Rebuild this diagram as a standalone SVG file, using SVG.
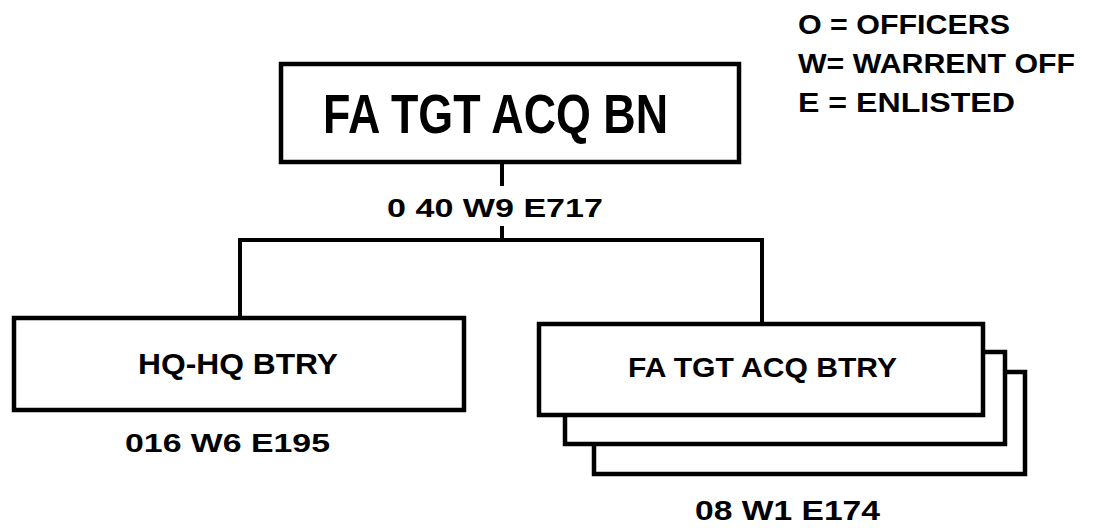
<svg xmlns="http://www.w3.org/2000/svg" width="1094" height="528" viewBox="0 0 1094 528">
<style>
.box{fill:#fff;stroke:#000;stroke-width:4.5}
.ln{fill:none;stroke:#000;stroke-width:4}
text{font-family:"Liberation Sans",Arial,sans-serif;font-weight:bold;fill:#000}
</style>
<rect width="1094" height="528" fill="#fff"/>
<g id="connectors">
<line class="ln" x1="502" y1="162" x2="502" y2="186"/>
<line class="ln" x1="502" y1="226" x2="502" y2="240"/>
<polyline class="ln" points="240,318 240,240 762,240 762,324"/>
</g>
<g id="bn">
<rect class="box" x="281" y="64" width="458" height="98"/>
<text x="323" y="133" font-size="56" textLength="345" lengthAdjust="spacingAndGlyphs">FA TGT ACQ BN</text>
<text x="387" y="217" font-size="26" textLength="216" lengthAdjust="spacingAndGlyphs">0 40 W9 E717</text>
</g>
<g id="hq">
<rect class="box" x="14" y="318" width="450" height="92"/>
<text x="138" y="374" font-size="30" textLength="200" lengthAdjust="spacingAndGlyphs">HQ-HQ BTRY</text>
<text x="125" y="452" font-size="26" textLength="205" lengthAdjust="spacingAndGlyphs">016 W6 E195</text>
</g>
<g id="btry">
<rect class="box" x="594" y="372" width="431" height="102"/>
<rect class="box" x="565" y="352" width="440" height="92"/>
<rect class="box" x="539" y="324" width="444" height="91"/>
<text x="628" y="377" font-size="28" textLength="269" lengthAdjust="spacingAndGlyphs">FA TGT ACQ BTRY</text>
<text x="695" y="520" font-size="27" textLength="185" lengthAdjust="spacingAndGlyphs">08 W1 E174</text>
</g>
<g id="legend">
<text x="798" y="34" font-size="27" textLength="212" lengthAdjust="spacingAndGlyphs">O = OFFICERS</text>
<text x="798" y="73" font-size="27" textLength="277" lengthAdjust="spacingAndGlyphs">W= WARRENT OFF</text>
<text x="798" y="112" font-size="27" textLength="217" lengthAdjust="spacingAndGlyphs">E = ENLISTED</text>
</g>
</svg>
